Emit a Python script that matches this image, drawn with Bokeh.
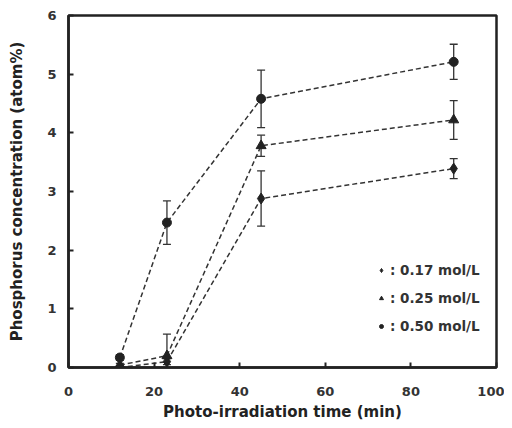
from bokeh.plotting import figure
from bokeh.models import ColumnDataSource, Whisker, TeeHead, Legend, LegendItem, Range1d, FixedTicker
from bokeh.embed import file_html
from bokeh.resources import INLINE

time = [12, 23, 45, 90]
c017 = [0.0, 0.1, 2.88, 3.39]
e017 = [0.03, 0.05, 0.47, 0.17]
c025 = [0.04, 0.2, 3.78, 4.22]
e025 = [0.03, 0.37, 0.18, 0.33]
c050 = [0.17, 2.47, 4.58, 5.21]
e050 = [0.05, 0.37, 0.49, 0.30]
labels = [": 0.17 mol/L", ": 0.25 mol/L", ": 0.50 mol/L"]
markers = ["diamond", "triangle", "circle"]
sizes = [11, 10, 9]

FONT = "DejaVu Sans"
INK = "#222222"

p = figure(width=504, height=424, output_backend="svg", toolbar_location=None,
           x_range=Range1d(0, 100), y_range=Range1d(0, 6),
           min_border_left=68, min_border_right=8, min_border_top=15, min_border_bottom=57)
p.grid.visible = False
p.outline_line_color = INK
p.outline_line_width = 2.5

for ax in (p.xaxis[0], p.yaxis[0]):
    ax.axis_line_color = INK
    ax.axis_line_width = 2.5
    ax.major_tick_in = 5
    ax.major_tick_out = 0
    ax.minor_tick_in = 0
    ax.minor_tick_out = 0
    ax.major_tick_line_color = INK
    ax.major_tick_line_width = 2
    ax.major_label_text_font = FONT
    ax.major_label_text_font_style = "bold"
    ax.major_label_text_font_size = "13px"
    ax.major_label_text_color = "#333333"
    ax.axis_label_text_font = FONT
    ax.axis_label_text_font_style = "bold"
    ax.axis_label_text_font_size = "15px"
    ax.axis_label_text_color = "#222222"

p.xaxis.ticker = FixedTicker(ticks=[0, 20, 40, 60, 80, 100])
p.yaxis.ticker = FixedTicker(ticks=[0, 1, 2, 3, 4, 5, 6])
p.xaxis.axis_label = "Photo-irradiation time (min)"
p.yaxis.axis_label = "Phosphorus concentration (atom%)"
p.xaxis.major_label_standoff = 19
p.xaxis.axis_label_standoff = 4
p.yaxis.major_label_standoff = 12
p.yaxis.axis_label_standoff = 18

items = []
for vals, errs, mk, sz, lab in zip([c017, c025, c050], [e017, e025, e050], markers, sizes, labels):
    src = ColumnDataSource(dict(x=time, y=vals,
                                lo=[v - e for v, e in zip(vals, errs)],
                                hi=[v + e for v, e in zip(vals, errs)]))
    p.line("x", "y", source=src, line_color="#333333", line_width=1.5, line_dash="5 3")
    w = Whisker(base="x", upper="hi", lower="lo", source=src, line_color="#333333", line_width=1.3,
                upper_head=TeeHead(size=8, line_color="#333333", line_width=1.3),
                lower_head=TeeHead(size=8, line_color="#333333", line_width=1.3))
    p.add_layout(w)
    r = p.scatter("x", "y", source=src, marker=mk, size=sz, fill_color=INK, line_color=INK)
    items.append(LegendItem(label=lab, renderers=[r]))

legend = Legend(items=items, location=(308, 33), border_line_color=None,
                background_fill_alpha=0, label_text_font=FONT, label_text_font_style="bold",
                label_text_font_size="13.5px", label_text_color="#333333",
                glyph_width=10, glyph_height=12, label_standoff=4, spacing=12, padding=4)
p.add_layout(legend)

open("out.html", "w").write(file_html(p, INLINE))
